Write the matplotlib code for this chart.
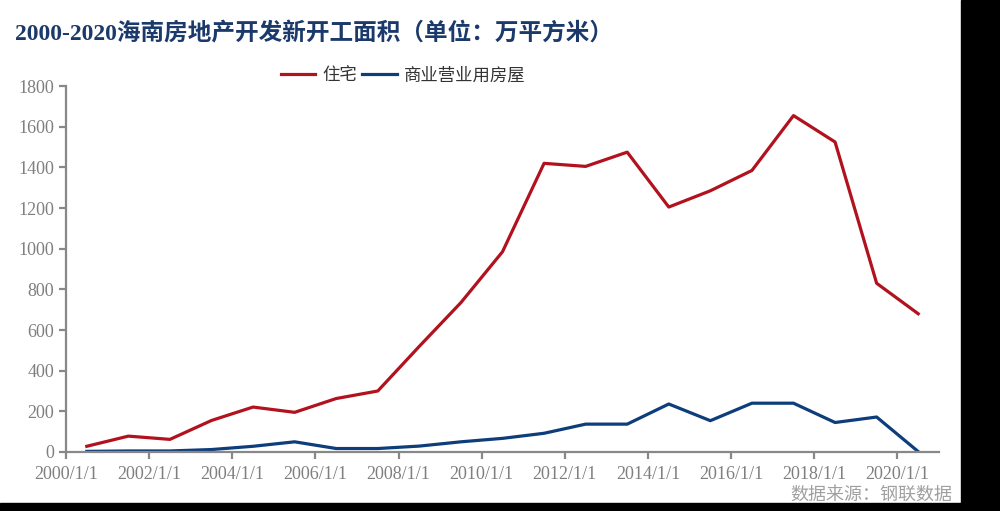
import matplotlib
matplotlib.use('Agg')
from matplotlib import pyplot as plt
from matplotlib.patches import Rectangle
import numpy as np

plt.rcParams['font.family'] = ['Liberation Serif', 'Noto Sans CJK SC']

years = list(range(2000, 2021))
zhuzhai = [28, 78, 62, 155, 221, 195, 263, 300, 520, 735, 985, 1420, 1405, 1475,
           1205, 1285, 1385, 1655, 1525, 830, 680]
shangye = [3, 5, 5, 12, 28, 50, 17, 17, 29, 50, 67, 92, 137, 137,
           236, 154, 240, 240, 145, 172, 2]
tick_labels = ['%d/1/1' % y for y in years[::2]]

red = '#B1121E'
blue = '#0E3D7C'
grey = '#7F7F7F'

fig = plt.figure(figsize=(10, 5.11), dpi=100)
ax = fig.add_axes([0.066, 0.1155, 0.873, 0.716])

x = np.arange(len(years))
ax.plot(x, zhuzhai, color=red, lw=2.3, label='住宅')
ax.plot(x, shangye, color=blue, lw=2.3, label='商业营业用房屋')

ax.set_xlim(-0.5, len(years) - 0.5)
ax.set_ylim(0, 1800)
ax.set_yticks(range(0, 1801, 200))
ax.set_xticks(np.arange(-0.5, len(years) - 0.5, 2))
ax.set_xticklabels(tick_labels)

for s in ['top', 'right']:
    ax.spines[s].set_visible(False)
for s in ['left', 'bottom']:
    ax.spines[s].set_color('#888888')
    ax.spines[s].set_linewidth(1.6)
ax.tick_params(colors='#888888', labelcolor=grey, labelsize=13, width=1.6, length=5)
ax.tick_params(axis='x', pad=5)

fig.text(0.015, 0.933, '2000-2020海南房地产开发新开工面积（单位：万平方米）',
         fontsize=17, fontweight='bold', color='#1B3A6B', va='center')
fig.legend(loc='center', bbox_to_anchor=(0.403, 0.851), ncol=2, frameon=False,
           fontsize=12.5, handlelength=2.0, columnspacing=0.3, handletextpad=0.4,
           labelcolor='#333333')
fig.text(0.952, 0.03, '数据来源：钢联数据', fontsize=13, color='#A0A0A0',
         ha='right', va='center')

# dark border strips present in the screenshot
fig.patches.append(Rectangle((0.961, 0), 0.04, 1, transform=fig.transFigure,
                             color='black', zorder=10))
fig.patches.append(Rectangle((0, 0), 1, 8 / 511, transform=fig.transFigure,
                             color='black', zorder=10))

fig.savefig('out.png', dpi=100)
